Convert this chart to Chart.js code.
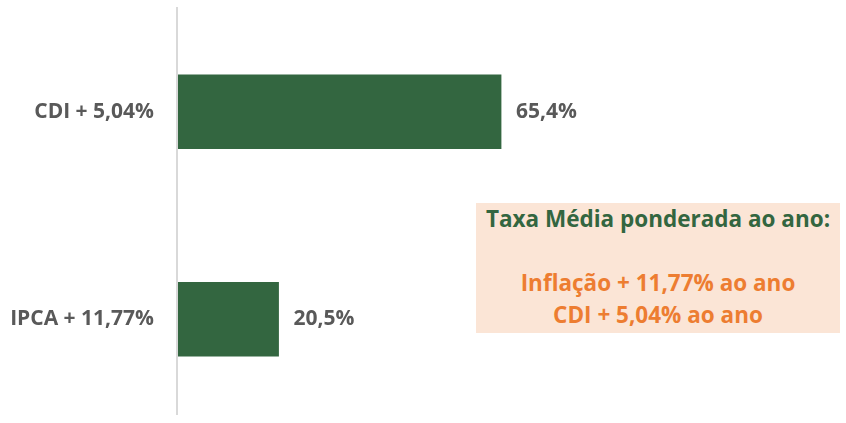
<!DOCTYPE html>
<html>
<head>
<meta charset="utf-8">
<script src="https://cdn.jsdelivr.net/npm/chart.js@4/dist/chart.umd.min.js"></script>
<style>
  html, body { margin: 0; padding: 0; background: #fff; }
  #wrap { position: relative; width: 846px; height: 423px; }
  #note {
    position: absolute; left: 476px; top: 203px; width: 364px; height: 130px;
    background: #fbe5d6; text-align: center; box-sizing: border-box; padding-top: 0;
    font-family: "Open Sans", sans-serif; font-weight: bold; font-size: 22.5px; line-height: 32px;
  }
  #note .t { color: #336640; }
  #note .o { color: #ed7d31; }
</style>
</head>
<body>
<div id="wrap">
  <canvas id="rateChart" width="846" height="423"></canvas>
  <div id="note">
    <div class="t">Taxa Média ponderada ao ano:</div>
    <div>&nbsp;</div>
    <div class="o">Inflação + 11,77% ao ano</div>
    <div class="o">CDI + 5,04% ao ano</div>
  </div>
</div>
<script>
// data
const categories = ['CDI + 5,04%', 'IPCA + 11,77%'];
const values = [65.4, 20.5];

// value labels after each bar + the vertical axis line
const barLabels = {
  id: 'barLabels',
  afterDatasetsDraw(chart) {
    const ctx = chart.ctx;
    const meta = chart.getDatasetMeta(0);
    ctx.save();
    ctx.font = 'bold 21px "Open Sans"';
    ctx.fillStyle = '#595959';
    ctx.textAlign = 'left';
    ctx.textBaseline = 'middle';
    meta.data.forEach((bar, i) => {
      ctx.fillText(values[i].toFixed(1).replace('.', ',') + '%', bar.x + 15, bar.y);
    });
    // axis line
    const a = chart.chartArea;
    ctx.strokeStyle = '#d9d9d9';
    ctx.lineWidth = 2;
    ctx.beginPath();
    ctx.moveTo(a.left, 7);
    ctx.lineTo(a.left, 415);
    ctx.stroke();
    ctx.restore();
  }
};

const ctx = document.getElementById('rateChart').getContext('2d');
new Chart(ctx, {
  type: 'bar',
  data: {
    labels: categories,
    datasets: [{
      data: values,
      backgroundColor: '#336640',
      barThickness: 74,
    }]
  },
  options: {
    indexAxis: 'y',
    responsive: false,
    animation: false,
    layout: { padding: { top: 8, bottom: 0, right: 5, left: 0 } },
    plugins: { legend: { display: false }, tooltip: { enabled: false } },
    scales: {
      x: { display: false, min: 0, max: 134 },
      y: {
        afterFit(scale) {
          scale.width = 177;
          scale.paddingTop = 0;
          scale.paddingBottom = 0;
        },
        grid: { display: false, drawTicks: false },
        border: { display: false },
        ticks: {
          padding: 23,
          color: '#595959',
          font: { family: 'Open Sans', weight: 'bold', size: 21 }
        }
      }
    }
  },
  plugins: [barLabels]
});
</script>
</body>
</html>
